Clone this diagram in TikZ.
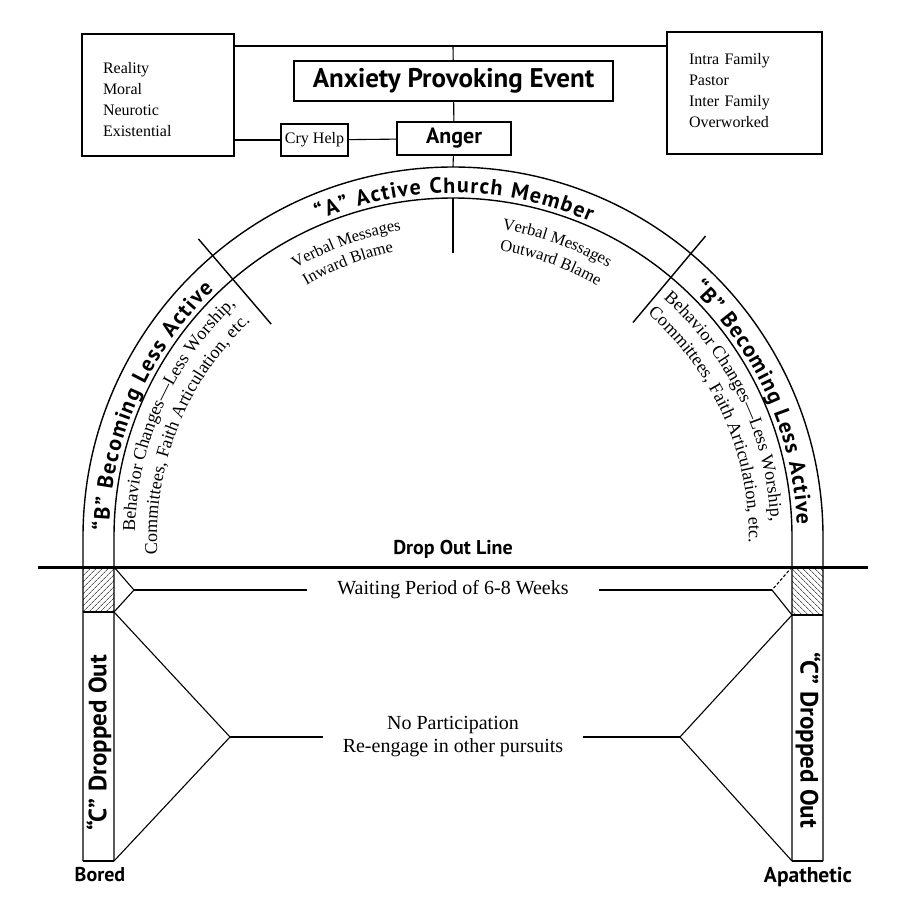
\documentclass[tikz,border=0pt]{standalone}
\usepackage{fontspec}
\setmainfont{Liberation Serif}
\newfontfamily\signfamily{PT Sans}
\usetikzlibrary{patterns.meta,decorations.text}
\def\bandtext(#1:#2:#3)#4{\path[decorate,decoration={text along path,text={#4},text align={fit to path}}] (#1:#3) arc (#1:#2:#3);}
\def\midtext(#1:#2:#3)#4{\path[decorate,decoration={text along path,text={#4},text align={center}}] (#1:#3) arc (#1:#2:#3);}
\newcommand\bandfont{\signfamily\bfseries\fontsize{22}{26}\selectfont}
\newcommand\notefont{\fontsize{18}{21}\selectfont}
\newcommand\smallnote{\fontsize{16.5}{19}\selectfont}
\newcommand\listfont{\fontsize{16}{21}\selectfont}
\tikzset{
	box/.style={draw, line width=1.3pt, inner sep=0pt},
	link/.style={line width=1.1pt},
	rim/.style={line width=1.4pt},
	sign/.style={font=\signfamily\bfseries\fontsize{#1}{#1}\selectfont, inner sep=0pt},
	note/.style={font=\fontsize{20}{23}\selectfont, inner ysep=0pt}
}

\begin{document}
\begin{tikzpicture}[x=1pt,y=1pt]
			%%%%% START %%%%%
			\useasboundingbox (0,0) rectangle (908,-905);
			
			% top boxes
			\node[box, text width=110pt, inner xsep=21pt, minimum height=122pt, align=left, font=\listfont] (kinds) at (158,-95) {\rule{0pt}{20pt}Reality\\Moral\\Neurotic\\Existential};
			\node[box, text width=111pt, inner xsep=22pt, minimum height=122pt, align=left, font=\listfont] (causes) at (744.5,-93) {Intra Family\\Pastor\\Inter Family\\Overworked\rule[-6pt]{0pt}{0pt}};
			\node[box, sign=27, minimum width=319pt, minimum height=40pt] (event) at (453.5,-81) {Anxiety Provoking Event};
			\node[box, sign=22, minimum width=114pt, minimum height=33pt] (anger) at (454,-138.5) {Anger};
			\node[box, line width=2.2pt, minimum width=67pt, minimum height=32pt, font=\listfont] (cry) at (314.5,-140) {Cry Help};
			
			\coordinate (bus) at (453,-46);
			\coordinate (crown) at (453,-167);
			\draw[link] (kinds.east |- bus) -- (causes.west |- bus);
			\draw[link] (bus) -- (event);
			\draw[link] (event) -- (anger);
			\draw[link] (kinds.east |- cry) -- (cry);
			\draw[link] (cry) -- (anger);
			\draw[link] (anger) -- (crown);
			
			% the arch and the two bars
			\begin{scope}[shift={(453,-537)}]
				\fill[pattern={Lines[angle=45,distance=4pt,line width=0.6pt]}] (-370,-30) rectangle (-339,-75);
				\fill[pattern={Lines[angle=-45,distance=4pt,line width=0.6pt]}] (339,-30) rectangle (370,-78);
				\draw[rim] (-370,-324) -- (180:370) arc (180:0:370) -- (370,-324);
				\draw[rim] (-339,-324) -- (180:339) arc (180:0:339) -- (339,-324);
				\draw[rim] (-370,-324) -- (-339,-324);
				\draw[rim] (339,-324) -- (370,-324);
				\draw[rim] (-370,-75) -- (-339,-75);
				\draw[rim] (339,-78) -- (370,-78);
				
				\draw[rim] (130.5:280) -- (130.5:392);
				\draw[rim] (50:280) -- (50:393);
				\draw[rim] (90:339) -- (90:284);
				
				\bandtext(113:66.5:344){|\bandfont|“A” Active Church Member}
				\bandtext(179:134:344){|\bandfont|“B” Becoming Less Active}
				\bandtext(46:2:344){|\bandfont|“B” Becoming Less Active}
				
				\midtext(186:126:318){|\notefont|Behavior Changes—Less Worship,}
				\midtext(188.25:128.25:296){|\notefont|Committees, Faith Articulation, etc.}
				\midtext(55.65:-4.35:318){|\notefont|Behavior Changes—Less Worship,}
				\midtext(53.85:-6.15:296){|\notefont|Committees, Faith Articulation, etc.}
				
				\midtext(125:95:311){|\smallnote|Verbal Messages}
				\midtext(126:96:291){|\smallnote|Inward Blame}
				\midtext(85.5:55.5:311){|\smallnote|Verbal Messages}
				\midtext(85.4:55.4:290){|\smallnote|Outward Blame}
			\end{scope}
			
			% drop out line
			\draw[line width=3pt] (38,-567) -- (868,-567);
			\node[sign=20] (drop) at (453,-549) {Drop Out Line};
			
			\coordinate (lht) at (114,-567);
			\coordinate (lhb) at (114,-612);
			\coordinate (lbot) at (114,-861);
			\coordinate (rht) at (792,-567);
			\coordinate (rhb) at (792,-615);
			\coordinate (rbot) at (792,-861);
			\coordinate (lwait) at (134,-590);
			\coordinate (rwait) at (772,-590);
			\coordinate (lpart) at (230,-737);
			\coordinate (rpart) at (680,-737);
			
			\node[note, inner xsep=30pt] (wait) at (453,-590) {Waiting Period of 6-8 Weeks};
			\draw[link] (lht) -- (lwait) -- (lhb);
			\draw[link] (lwait) -- (wait);
			\draw[link, densely dashed] (rht) -- (rwait);
			\draw[link] (rwait) -- (rhb);
			\draw[link] (wait) -- (rwait);
			
			\node[note, align=center, inner xsep=20pt] (nopart) at (453,-737) {No Participation\\Re-engage in other pursuits};
			\draw[link] (lhb) -- (lpart) -- (lbot);
			\draw[link] (lpart) -- (nopart);
			\draw[link] (rhb) -- (rpart) -- (rbot);
			\draw[link] (nopart) -- (rpart);
			
			\node[sign=25, rotate=90] (lout) at (99,-743) {“C” Dropped Out};
			\node[sign=25, rotate=-90] (rout) at (808,-740) {“C” Dropped Out};
			\node[sign=20] (bored) at (100,-875) {Bored};
			\node[sign=21.5] (apathy) at (808,-877) {Apathetic};
			
			%%%%% END %%%%%
		\end{tikzpicture}
\end{document}
